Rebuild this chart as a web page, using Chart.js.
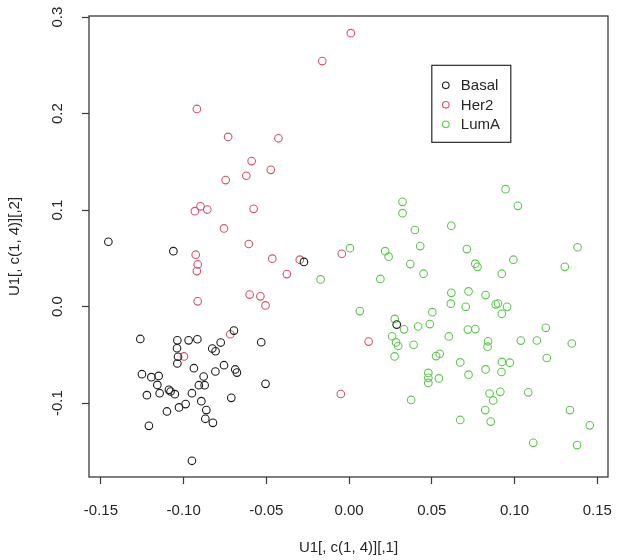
<!DOCTYPE html>
<html>
<head>
<meta charset="utf-8">
<title>U1 scatter</title>
<script src="https://cdn.jsdelivr.net/npm/chart.js@4.4.0/dist/chart.umd.min.js"></script>
<style>
  html, body { margin: 0; padding: 0; background: #fff; }
  canvas { display: block; }
</style>
</head>
<body>
<canvas id="u1-scatter" width="625" height="560"></canvas>
<script>
const groups = ['Basal', 'Her2', 'LumA'];

const basalX = [-0.1262, -0.1038, -0.0970, -0.0917, -0.0776, -0.0531, -0.1040, -0.0827, -0.0807, -0.1034,
  -0.1038, -0.0938, -0.1252, -0.0756, -0.0808, -0.0688, -0.0678, -0.1195, -0.1151, -0.0879,
  -0.1159, -0.0908, -0.0873, -0.0505, -0.1089, -0.1079, -0.1053, -0.1145, -0.1222, -0.0950,
  -0.0712, -0.0893, -0.0988, -0.1028, -0.1101, -0.0863, -0.0869, -0.0823, -0.1210, -0.0950,
  -0.1455, -0.1062, -0.0273, -0.0696, 0.0288];
const basalY = [-0.0335, -0.0349, -0.0349, -0.0338, -0.0372, -0.0369, -0.0431, -0.0434, -0.0462, -0.0519,
  -0.0589, -0.0638, -0.0700, -0.0607, -0.0672, -0.0651, -0.0683, -0.0731, -0.0718, -0.0724,
  -0.0811, -0.0814, -0.0814, -0.0800, -0.0862, -0.0879, -0.0907, -0.0897, -0.0917, -0.0897,
  -0.0945, -0.0979, -0.1010, -0.1044, -0.1086, -0.1072, -0.1162, -0.1204, -0.1235, -0.1597,
  0.0672, 0.0575, 0.0463, -0.0248, -0.0186];

const her2X = [0.0011, -0.0162, -0.0920, -0.0731, -0.0427, -0.0589, -0.0621, -0.0473, -0.0746, -0.0932,
  -0.0898, -0.0857, -0.0577, -0.0756, -0.0606, -0.0927, -0.0915, -0.0920, -0.0464, -0.0298,
  -0.0044, -0.0376, -0.0915, -0.0601, -0.0536, -0.0505, -0.0718, -0.0998, -0.0050, 0.0118];
const her2Y = [0.2833, 0.2544, 0.2048, 0.1758, 0.1744, 0.1508, 0.1356, 0.1417, 0.1311, 0.0989,
  0.1039, 0.1006, 0.1013, 0.0810, 0.0649, 0.0538, 0.0437, 0.0368, 0.0497, 0.0487,
  0.0548, 0.0337, 0.0055, 0.0125, 0.0107, 0.0013, -0.0286, -0.0516, -0.0905, -0.0362];

const lumaX = [0.0323, 0.0323, 0.0398, 0.0618, 0.0005, 0.0218, 0.0239, 0.0430, 0.0712, 0.0370,
  0.0450, 0.0763, 0.0776, 0.0189, 0.0618, 0.0722, 0.0615, 0.0705, 0.0065, 0.0276,
  0.0503, 0.0417, 0.0488, 0.0332, 0.0718, 0.0763, 0.0946, 0.1020, 0.1381, 0.0993,
  0.0923, 0.1304, 0.0825, 0.0886, 0.0900, 0.0955, 0.0923, 0.1189, 0.0260, 0.0284,
  0.0297, 0.0390, 0.0603, 0.0840, 0.0837, 0.1038, 0.1135, 0.1346, 0.0275, 0.0526,
  0.0548, 0.0672, 0.0924, 0.0972, 0.1195, 0.0479, 0.0479, 0.0479, 0.0543, 0.0722,
  0.0825, 0.0921, 0.0375, 0.0849, 0.0871, 0.0914, 0.1083, 0.0823, 0.0672, 0.0856,
  0.1335, 0.1455, 0.1113, 0.1378, -0.0172];
const lumaY = [0.1086, 0.0968, 0.0794, 0.0838, 0.0606, 0.0575, 0.0518, 0.0627, 0.0596, 0.0441,
  0.0341, 0.0445, 0.0412, 0.0287, 0.0143, 0.0158, 0.0031, -0.0002, -0.0046, -0.0127,
  -0.0057, -0.0206, -0.0181, -0.0235, -0.0238, -0.0233, 0.1217, 0.1044, 0.0615, 0.0486,
  0.0341, 0.0412, 0.0120, 0.0024, 0.0032, -0.0002, -0.0074, -0.0220, -0.0307, -0.0371,
  -0.0408, -0.0395, -0.0309, -0.0359, -0.0415, -0.0352, -0.0351, -0.0382, -0.0516, -0.0512,
  -0.0488, -0.0578, -0.0573, -0.0581, -0.0532, -0.0687, -0.0738, -0.0790, -0.0744, -0.0705,
  -0.0650, -0.0677, -0.0967, -0.0900, -0.0972, -0.0883, -0.0888, -0.1072, -0.1174, -0.1191,
  -0.1072, -0.1230, -0.1411, -0.1434, 0.0282];

const xTicks = [-0.15, -0.10, -0.05, 0.00, 0.05, 0.10, 0.15];
const yTicks = [-0.1, 0.0, 0.1, 0.2, 0.3];

const groupColors = ['#1c1c1c', '#d9536a', '#5cc94c'];
const fontFamily = '"Liberation Sans", Arial, Helvetica, sans-serif';
const textColor = '#262626';

const toPoints = (xs, ys) => xs.map((x, i) => ({ x, y: ys[i] }));

// box round the plot, rotated y labels and the legend, drawn R style
const rFrame = {
  id: 'rFrame',
  afterDraw(chart) {
    const { ctx, chartArea: area, scales } = chart;
    ctx.save();
    ctx.strokeStyle = '#3a3a3a';
    ctx.lineWidth = 1.3;
    ctx.strokeRect(area.left, area.top, area.right - area.left, area.bottom - area.top);

    ctx.fillStyle = textColor;
    ctx.font = `15px ${fontFamily}`;
    ctx.textAlign = 'center';
    ctx.textBaseline = 'middle';
    scales.y.ticks.forEach(tick => {
      ctx.save();
      ctx.translate(58, scales.y.getPixelForValue(tick.value));
      ctx.rotate(-Math.PI / 2);
      ctx.fillText(tick.value.toFixed(1), 0, 0);
      ctx.restore();
    });

    const left = scales.x.getPixelForValue(0.05);
    const top = scales.y.getPixelForValue(0.25);
    ctx.lineWidth = 1.2;
    ctx.strokeStyle = '#2a2a2a';
    ctx.strokeRect(left, top, 79, 77);
    ctx.textAlign = 'left';
    chart.data.datasets.forEach((ds, i) => {
      const y = top + 20 + i * 19.5;
      ctx.beginPath();
      ctx.arc(left + 14, y, 3.3, 0, Math.PI * 2);
      ctx.strokeStyle = ds.borderColor;
      ctx.lineWidth = 1.1;
      ctx.stroke();
      ctx.fillStyle = textColor;
      ctx.fillText(ds.label, left + 29, y + 1);
    });
    ctx.restore();
  }
};

new Chart(document.getElementById('u1-scatter'), {
  type: 'scatter',
  data: {
    datasets: [
      { label: groups[0], data: toPoints(basalX, basalY) },
      { label: groups[1], data: toPoints(her2X, her2Y) },
      { label: groups[2], data: toPoints(lumaX, lumaY) },
    ].map((ds, i) => ({
      ...ds,
      borderColor: groupColors[i],
      backgroundColor: 'rgba(0,0,0,0)',
      borderWidth: 1.1,
      pointRadius: 3.8,
      pointHoverRadius: 3.8,
    })),
  },
  options: {
    responsive: false,
    animation: false,
    events: [],
    layout: { padding: { left: 0, right: 17, top: 16, bottom: 0 } },
    plugins: {
      legend: { display: false },
      tooltip: { enabled: false },
    },
    scales: {
      x: {
        type: 'linear',
        min: -0.1572,
        max: 0.1565,
        afterBuildTicks: scale => { scale.ticks = xTicks.map(value => ({ value })); },
        afterFit: scale => {
          scale.height = 83;
          scale.paddingLeft = 0;
          scale.paddingRight = 0;
        },
        grid: { drawOnChartArea: false, drawTicks: true, tickLength: 7, tickColor: '#3a3a3a', tickWidth: 1.2 },
        border: { display: false },
        ticks: {
          maxRotation: 0,
          autoSkip: false,
          padding: 18,
          color: textColor,
          font: { family: fontFamily, size: 15 },
          callback: value => value.toFixed(2),
        },
        title: {
          display: true,
          text: 'U1[, c(1, 4)][,1]',
          color: textColor,
          font: { family: fontFamily, size: 15 },
          padding: { top: 0, bottom: 3 },
        },
      },
      y: {
        type: 'linear',
        min: -0.1765,
        max: 0.3011,
        afterBuildTicks: scale => { scale.ticks = yTicks.map(value => ({ value })); },
        afterFit: scale => {
          scale.width = 89;
          scale.paddingTop = 0;
          scale.paddingBottom = 0;
        },
        grid: { drawOnChartArea: false, drawTicks: true, tickLength: 7, tickColor: '#3a3a3a', tickWidth: 1.2 },
        border: { display: false },
        ticks: { display: false },
        title: {
          display: true,
          text: 'U1[, c(1, 4)][,2]',
          color: textColor,
          font: { family: fontFamily, size: 15 },
          padding: { top: 6, bottom: 0 },
        },
      },
    },
  },
  plugins: [rFrame],
});
</script>
</body>
</html>
